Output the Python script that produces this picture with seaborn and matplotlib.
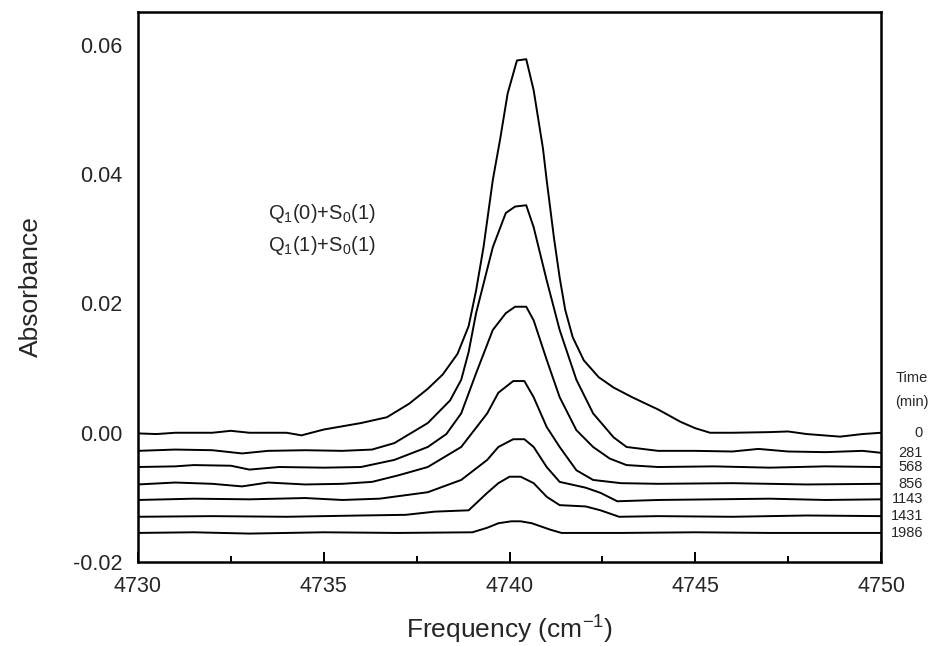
import matplotlib
matplotlib.use("Agg")
import matplotlib.pyplot as plt
import seaborn as sns
import pandas as pd

# ---- data ----
time_labels = ["0", "281", "568", "856", "1143", "1431", "1986"]

freq_0 = [4730, 4730.5, 4731, 4732, 4732.5, 4733, 4734, 4734.4, 4735, 4735.5, 4736, 4736.7,
          4737.3, 4737.8, 4738.2, 4738.6, 4738.9, 4739.1, 4739.3, 4739.55, 4739.75, 4739.95, 4740.2,
          4740.45, 4740.65, 4740.9, 4741.0, 4741.2, 4741.35, 4741.5, 4741.7, 4742.0, 4742.4, 4742.8, 4743.3,
          4744.0, 4744.6, 4745.0, 4745.4, 4746, 4747, 4747.5, 4748, 4748.9, 4749.5, 4750]
abs_0 = [-0.0001, -0.0002, 0.0, 0.0, 0.0003, 0.0, 0.0, -0.0004, 0.0005, 0.0010, 0.0015, 0.0024,
         0.0045, 0.0068, 0.0090, 0.0122, 0.0165, 0.0220, 0.0287, 0.0391, 0.0455, 0.0525, 0.0576,
         0.0578, 0.0530, 0.0440, 0.0391, 0.0300, 0.0240, 0.0190, 0.0148, 0.0112, 0.0086, 0.0070, 0.0055,
         0.0036, 0.0017, 0.0007, 0.0, 0.0, 0.0001, 0.0002, -0.0002, -0.0006, -0.0002, 0.0]

freq_281 = [4730, 4731, 4732, 4732.8, 4733.5, 4734.5, 4735.5, 4736.3, 4736.9, 4737.8, 4738.4,
            4738.7, 4738.9, 4739.1, 4739.55, 4739.9, 4740.15, 4740.45, 4740.65, 4741.0, 4741.35, 4741.8,
            4742.25, 4742.8, 4743.15, 4744.0, 4745, 4746, 4746.7, 4747.5, 4748.5, 4749.5, 4750]
abs_281 = [-0.0028, -0.0026, -0.0027, -0.0032, -0.0028, -0.0027, -0.0028, -0.0026, -0.0016, 0.0015, 0.0050,
           0.0082, 0.0125, 0.0185, 0.0287, 0.0340, 0.0350, 0.0352, 0.0318, 0.0236, 0.0159, 0.0082,
           0.0030, -0.0007, -0.0022, -0.0028, -0.0028, -0.0029, -0.0025, -0.0029, -0.0030, -0.0028, -0.0031]

freq_568 = [4730, 4731, 4731.5, 4732.5, 4733, 4733.8, 4735, 4736, 4736.9, 4737.8, 4738.3, 4738.7, 4739.1,
            4739.55, 4739.9, 4740.15, 4740.45, 4740.65, 4741.0, 4741.35, 4741.8, 4742.25, 4742.7, 4743.15,
            4744, 4745.5, 4747, 4748.5, 4750]
abs_568 = [-0.0053, -0.0052, -0.0050, -0.0051, -0.0057, -0.0053, -0.0054, -0.0053, -0.0042, -0.0022, -0.0002, 0.0030, 0.0092,
           0.0159, 0.0185, 0.0195, 0.0195, 0.0174, 0.0113, 0.0055, 0.0004, -0.0022, -0.0040, -0.0050,
           -0.0053, -0.0052, -0.0054, -0.0052, -0.0053]

freq_856 = [4730, 4731, 4732, 4732.8, 4733.5, 4734.5, 4735.5, 4736.3, 4737.0, 4737.8, 4738.7, 4739.4,
            4739.7, 4740.1, 4740.4, 4740.65, 4741.0, 4741.35, 4741.8, 4742.25, 4743, 4744, 4746, 4748, 4750]
abs_856 = [-0.0080, -0.0077, -0.0079, -0.0083, -0.0077, -0.0080, -0.0079, -0.0076, -0.0066, -0.0053, -0.0022, 0.0030,
           0.0062, 0.0080, 0.0080, 0.0055, 0.0009, -0.0022, -0.0058, -0.0073, -0.0078, -0.0079, -0.0078, -0.0080, -0.0079]

freq_1143 = [4730, 4731.5, 4733, 4734.5, 4735.5, 4736.5, 4737.8, 4738.7, 4739.4, 4739.7, 4740.1, 4740.4,
             4740.65, 4741.0, 4741.35, 4742.05, 4742.45, 4742.9, 4744, 4745.5, 4747, 4748.5, 4750]
abs_1143 = [-0.0104, -0.0102, -0.0103, -0.0101, -0.0104, -0.0102, -0.0092, -0.0073, -0.0042, -0.0022, -0.0010, -0.0010,
            -0.0022, -0.0053, -0.0076, -0.0085, -0.0093, -0.0106, -0.0104, -0.0103, -0.0102, -0.0104, -0.0103]

freq_1431 = [4730, 4732, 4734, 4736, 4737.2, 4738, 4738.9, 4739.4, 4739.7, 4740.0, 4740.3, 4740.65,
             4741.0, 4741.35, 4742.05, 4742.45, 4742.95, 4744, 4746, 4748, 4750]
abs_1431 = [-0.0130, -0.0129, -0.0130, -0.0128, -0.0127, -0.0122, -0.0120, -0.0093, -0.0078, -0.0068, -0.0068, -0.0078,
            -0.0099, -0.0112, -0.0114, -0.0120, -0.0130, -0.0129, -0.0130, -0.0128, -0.0129]

freq_1986 = [4730, 4731.5, 4733, 4735, 4737, 4739.0, 4739.4, 4739.7, 4740.05, 4740.3, 4740.6, 4741.1,
             4741.4, 4743, 4745, 4747, 4750]
abs_1986 = [-0.0155, -0.0154, -0.0156, -0.0154, -0.0155, -0.0154, -0.0147, -0.0140, -0.0137, -0.0137, -0.0140, -0.0150,
            -0.0155, -0.0155, -0.0154, -0.0155, -0.0155]

x_ticks = [4730, 4735, 4740, 4745, 4750]
y_ticks = [-0.02, 0.00, 0.02, 0.04, 0.06]
y_ticklabels = ["-0.02", "0.00", "0.02", "0.04", "0.06"]

series = [(freq_0, abs_0), (freq_281, abs_281), (freq_568, abs_568), (freq_856, abs_856),
          (freq_1143, abs_1143), (freq_1431, abs_1431), (freq_1986, abs_1986)]

frames = []
for lab, (f, a) in zip(time_labels, series):
    frames.append(pd.DataFrame({"freq": f, "absorbance": a, "time": lab}))
df = pd.concat(frames, ignore_index=True)

# ---- style ----
sns.set_theme(style="white")
plt.rcParams["font.family"] = ["Liberation Sans", "DejaVu Sans"]
plt.rcParams["mathtext.default"] = "regular"

fig = plt.figure(figsize=(9.33, 6.46), dpi=100)
ax = fig.add_axes([0.1479, 0.130, 0.7964, 0.8514])

sns.lineplot(data=df, x="freq", y="absorbance", hue="time", units="time", estimator=None,
             palette=["black"] * len(time_labels), hue_order=time_labels, sort=False,
             linewidth=1.4, legend=False, ax=ax)

ax.set_xlim(4730, 4750)
ax.set_ylim(-0.02, 0.0651)
ax.set_xticks(x_ticks)
ax.set_xticks([4732.5, 4737.5, 4742.5, 4747.5], minor=True)
ax.set_yticks(y_ticks)
ax.set_yticklabels(y_ticklabels)
ax.tick_params(axis="x", which="major", direction="in", length=7, width=1.4,
               labelsize=15.5, pad=10, bottom=True, top=False, color="black")
ax.tick_params(axis="x", which="minor", direction="in", length=4, width=1.4,
               bottom=True, top=False, color="black")
ax.tick_params(axis="y", length=0, labelsize=15.5, pad=11, left=True)
for s in ax.spines.values():
    s.set_color("black")
    s.set_linewidth(1.8)

ax.set_xlabel("Frequency (cm$^{-1}$)", fontsize=19, labelpad=12)
ax.set_ylabel("Absorbance", fontsize=19, labelpad=22)

ax.text(4733.5, 0.0339, "Q$_1$(0)+S$_0$(1)", fontsize=14.5, ha="left", va="center")
ax.text(4733.5, 0.0290, "Q$_1$(1)+S$_0$(1)", fontsize=14.5, ha="left", va="center")

# time labels on the right
for lab, (f, a) in zip(time_labels, series):
    ax.annotate(lab, xy=(1.0565, a[-1]), xycoords=("axes fraction", "data"),
                ha="right", va="center", fontsize=10.5, annotation_clip=False)
ax.text(1.041, 0.3345, "Time", transform=ax.transAxes, ha="center", va="center", fontsize=10.5)
ax.text(1.041, 0.291, "(min)", transform=ax.transAxes, ha="center", va="center", fontsize=10.5)

fig.savefig("out.png", dpi=100, facecolor="white")
